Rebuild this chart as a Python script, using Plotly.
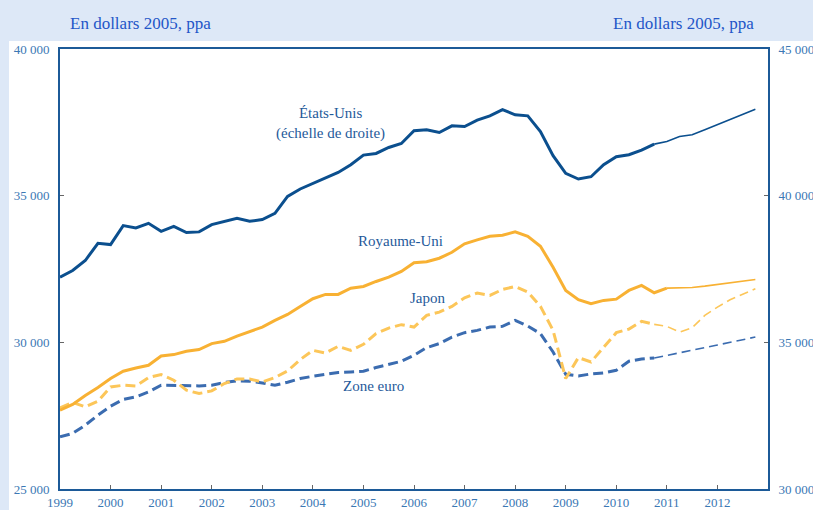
import plotly.graph_objects as go

# ---------------- data (quarterly, 1999Q1 - 2012Q4) ----------------
start_year = 1999
n_quarters = 56
quarters = [start_year + i / 4 for i in range(n_quarters)]
year_ticks = list(range(1999, 2013))

# États-Unis (right axis)
etats_unis = [37221, 37449, 37789, 38378,
              38333, 38980, 38901, 39058,
              38786, 38956, 38742, 38765,
              39014, 39126, 39228, 39126,
              39184, 39398, 39976, 40228,
              40419, 40602, 40793, 41055,
              41384, 41439, 41643, 41779,
              42211, 42245, 42153, 42381,
              42357, 42575, 42721, 42936,
              42755, 42721, 42187, 41361,
              40759, 40568, 40646, 41055,
              41327, 41395, 41555, 41758,
              41847, 42017, 42075, 42245,
              42415, 42602, 42772, 42949]

royaume_uni = [27687, 27881, 28187, 28459,
               28765, 29014, 29126, 29218,
               29534, 29582, 29694, 29752,
               29956, 30034, 30214, 30374,
               30520, 30748, 30952, 31225,
               31487, 31633, 31633, 31847,
               31905, 32075, 32221, 32415,
               32711, 32745, 32867, 33071,
               33357, 33493, 33616, 33650,
               33765, 33616, 33276, 32561,
               31769, 31452, 31316, 31429,
               31473, 31769, 31939, 31691,
               31847, 31847, 31871, 31915,
               31973, 32031, 32085, 32143]

japon = [27765, 27949, 27799, 27993,
         28480, 28537, 28514, 28799,
         28901, 28708, 28367, 28255,
         28344, 28595, 28752, 28752,
         28650, 28799, 29024, 29412,
         29728, 29636, 29864, 29728,
         29932, 30296, 30487, 30602,
         30520, 30918, 31031, 31225,
         31520, 31677, 31599, 31803,
         31905, 31711, 31225, 30408,
         28765, 29480, 29330, 29840,
         30330, 30452, 30714, 30612,
         30544, 30350, 30500, 30918,
         31201, 31452, 31633, 31827]

zone_euro = [26779, 26895, 27177, 27517,
             27823, 28051, 28140, 28310,
             28537, 28527, 28514, 28514,
             28537, 28629, 28684, 28674,
             28616, 28537, 28639, 28765,
             28844, 28912, 28973, 28990,
             29014, 29140, 29242, 29354,
             29558, 29820, 29956, 30180,
             30330, 30408, 30520, 30544,
             30748, 30555, 30296, 29670,
             28912, 28854, 28922, 28956,
             29048, 29354, 29432, 29466,
             29548, 29640, 29728, 29820,
             29908, 30000, 30092, 30180]

# index of the first projected quarter (thin line from there)
proj_us = 47
proj_uk = 48
proj_jp = 47
proj_ze = 47

# ---------------- styles ----------------
C_US = "#0b4f8e"
C_UK = "#f8b133"
C_JP = "#fcc659"
C_ZE = "#3b6cb0"
C_AXIS = "#1c5a98"
C_TICK = "#3b78b4"
C_HEAD = "#2356c8"
FONT = "Liberation Serif, DejaVu Serif, serif"

fig = go.Figure()


def add_series(values, split, color, dash_thick, dash_thin, yaxis="y"):
    fig.add_trace(go.Scatter(
        x=quarters[:split + 1], y=values[:split + 1], mode="lines",
        line=dict(color=color, width=3, dash=dash_thick),
        yaxis=yaxis, showlegend=False, hoverinfo="skip"))
    fig.add_trace(go.Scatter(
        x=quarters[split:], y=values[split:], mode="lines",
        line=dict(color=color, width=1.6, dash=dash_thin),
        yaxis=yaxis, showlegend=False, hoverinfo="skip"))


add_series(zone_euro, proj_ze, C_ZE, "10px,5px", "9px,5px")
add_series(japon, proj_jp, C_JP, "10px,5px", "9px,5px")
add_series(royaume_uni, proj_uk, C_UK, "solid", "solid")
add_series(etats_unis, proj_us, C_US, "solid", "solid", yaxis="y2")

# white panel behind the chart
fig.add_shape(type="rect", xref="paper", yref="paper",
              x0=-0.072, x1=1.07, y0=-0.1, y1=1.0182,
              fillcolor="white", line=dict(width=0), layer="below")

label_font = dict(family=FONT, size=15, color="#1f5a9a")
fig.add_annotation(x=2004.34, y=37449, text="États-Unis<br>(échelle de droite)",
                   showarrow=False, font=label_font, align="center")
fig.add_annotation(x=2005.74, y=33469, text="Royaume-Uni",
                   showarrow=False, font=label_font)
fig.add_annotation(x=2006.26, y=31497, text="Japon",
                   showarrow=False, font=label_font)
fig.add_annotation(x=2005.19, y=28503, text="Zone euro",
                   showarrow=False, font=label_font)

head_font = dict(family=FONT, size=17, color=C_HEAD)
fig.add_annotation(xref="paper", yref="paper", x=0.114, y=1.059,
                   text="En dollars 2005, ppa", showarrow=False,
                   font=head_font, xanchor="center", yanchor="middle")
fig.add_annotation(xref="paper", yref="paper", x=0.88, y=1.059,
                   text="En dollars 2005, ppa", showarrow=False,
                   font=head_font, xanchor="center", yanchor="middle")

tick_font = dict(family=FONT, size=13, color=C_TICK)

fig.update_layout(
    width=813, height=510,
    margin=dict(l=60, r=45, t=49, b=21, autoexpand=False),
    paper_bgcolor="#dde8f7",
    plot_bgcolor="white",
    separators=", ",
    xaxis=dict(range=[1999, 2013], tickvals=year_ticks,
               ticktext=[str(y) for y in year_ticks],
               showgrid=False, zeroline=False, automargin=False,
               showline=True, linecolor=C_AXIS, linewidth=2, mirror=True,
               ticks="inside", ticklen=4, tickcolor="#666666", tickwidth=1,
               tickfont=tick_font),
    yaxis=dict(range=[25000, 40000], tickvals=[25000, 30000, 35000, 40000],
               tickformat=",d", showgrid=False, zeroline=False, automargin=False,
               showline=True, linecolor=C_AXIS, linewidth=2,
               ticks="inside", ticklen=4, tickcolor="#666666", tickwidth=1,
               tickfont=tick_font, ticklabelstandoff=6),
    yaxis2=dict(range=[30000, 45000], tickvals=[30000, 35000, 40000, 45000],
                tickformat=",d", overlaying="y", side="right",
                showgrid=False, zeroline=False, automargin=False,
                showline=True, linecolor=C_AXIS, linewidth=2,
                ticks="inside", ticklen=4, tickcolor="#666666", tickwidth=1,
                tickfont=tick_font, ticklabelstandoff=6),
)

fig.write_html("out.html")
